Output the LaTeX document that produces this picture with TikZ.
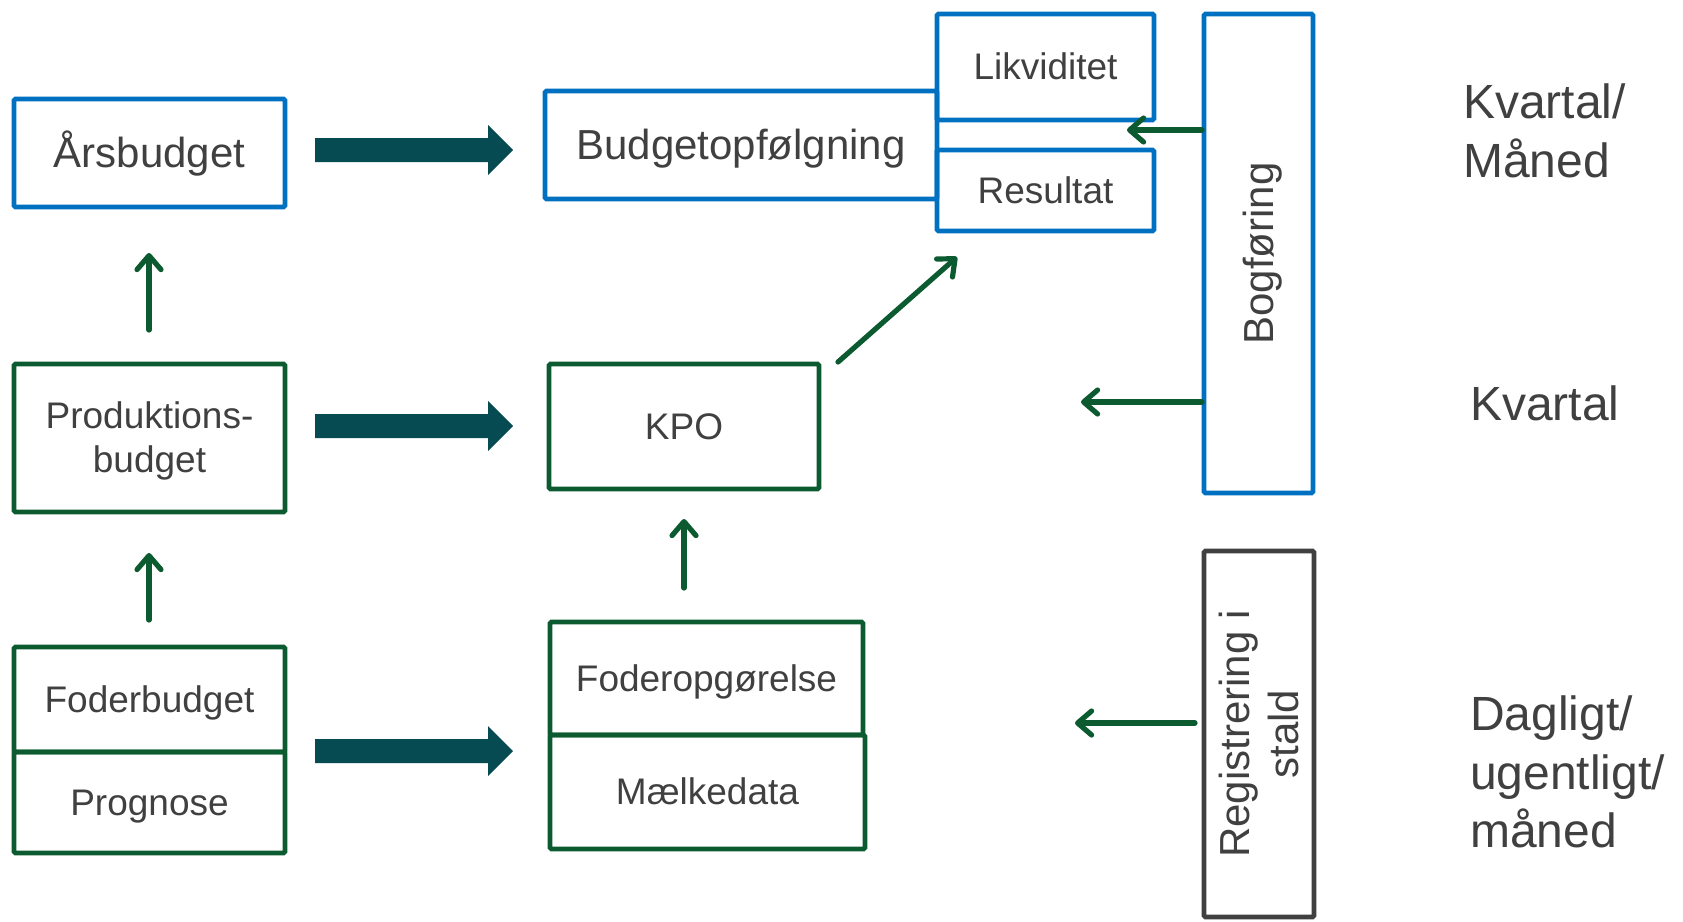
\documentclass[tikz,border=0pt]{standalone}
\usepackage{fontspec}
\setmainfont{Liberation Sans}
\usetikzlibrary{arrows.meta,calc}
\definecolor{cblue}{HTML}{0070C0}
\definecolor{cgreen}{HTML}{0C5B30}
\definecolor{cteal}{HTML}{064A52}
\definecolor{cgray}{HTML}{404040}
\definecolor{ctext}{HTML}{404040}
\newcommand\ppstrut{\rule[-0.212em]{0pt}{1.117em}}
\newcommand\fatarrow[2]{%
  \fill[cteal] ($(#1)+(0,-12)$) -- ($(#2)+(-25,-12)$) -- ($(#2)+(-25,-25)$) -- (#2)
    -- ($(#2)+(-25,25)$) -- ($(#2)+(-25,12)$) -- ($(#1)+(0,12)$) -- cycle;}
\begin{document}
\begin{tikzpicture}[x=1pt,y=-1pt,
  box/.style={draw, line width=4.8pt, rectangle, rounded corners=1.5pt, inner sep=0pt,
    outer sep=0pt, text=ctext, font=\fontsize{37}{44}\selectfont, align=center},
  bluebox/.style={box, draw=cblue},
  greenbox/.style={box, draw=cgreen},
  graybox/.style={box, draw=cgray, font=\fontsize{42}{49}\selectfont},
  thinarrow/.style={draw=cgreen, line width=5.2pt, line cap=round,
    -{Straight Barb[length=14pt,width=24pt,line join=round,line cap=round]}},
  sidelabel/.style={text=ctext, font=\fontsize{48}{58.5}\selectfont, align=left,
    anchor=west, inner sep=0pt}
]
\useasboundingbox (0,0) rectangle (1683,921);
\fill[white] (0,0) rectangle (1683,921);

% left column
\node[bluebox, minimum width=271pt, minimum height=108pt, font=\fontsize{42}{49}\selectfont] (ars) at (149.5,153) {\ppstrut Årsbudget};
\node[greenbox, minimum width=271pt, minimum height=148pt] (prod) at (149.5,438) {\ppstrut Produktions-\\\ppstrut budget};
\node[greenbox, minimum width=271pt, minimum height=105pt] (foder) at (149.5,699.5) {\ppstrut Foderbudget};
\node[greenbox, minimum width=271pt, minimum height=101pt] (progn) at (149.5,802.5) {\ppstrut Prognose};

% middle column
\node[bluebox, minimum width=392pt, minimum height=108pt, font=\fontsize{42}{49}\selectfont] (budget) at (741,145) {\ppstrut Budgetopfølgning};
\node[bluebox, minimum width=217pt, minimum height=106pt] (likv) at (1045.5,67) {\ppstrut Likviditet};
\node[bluebox, minimum width=217pt, minimum height=81pt] (res) at (1045.5,190.5) {\ppstrut Resultat};
\node[greenbox, minimum width=270pt, minimum height=125pt] (kpo) at (684,426.5) {\ppstrut KPO};
\node[greenbox, minimum width=313pt, minimum height=113pt] (fopg) at (706.5,678.5) {\ppstrut Foderopgørelse};
\node[greenbox, minimum width=315pt, minimum height=114pt] (maelk) at (707.5,792) {\ppstrut Mælkedata};

% right column
\node[graybox, draw=cblue, minimum width=479pt, minimum height=109pt, rotate=90] (bog) at (1258.5,253.5) {\ppstrut Bogføring};
\node[graybox, minimum width=366pt, minimum height=110pt, rotate=90] (reg) at (1259,734) {\ppstrut Registrering i\\\ppstrut stald};

% side labels
\node[sidelabel] (l1) at (1463,131) {Kvartal/\\Måned};
\node[sidelabel] (l2) at (1470,403.5) {Kvartal};
\node[sidelabel] (l3) at (1470,772) {Dagligt/\\ugentligt/\\måned};

% fat arrows
\coordinate (f1s) at ($(ars.east)+(30,-3)$);
\coordinate (f1e) at ($(budget.west)+(-32,5)$);
\coordinate (f2s) at ($(prod.east)+(30,-12)$);
\coordinate (f2e) at ($(kpo.west)+(-36,-0.5)$);
\coordinate (f3s) at ($(progn.north east)+(30,-1)$);
\coordinate (f3e) at ($(fopg.south west)+(-37,16)$);
\fatarrow{f1s}{f1e}
\fatarrow{f2s}{f2e}
\fatarrow{f3s}{f3e}

% thin arrows
\coordinate (u1s) at (149,330);
\coordinate (u1e) at (149,253);
\coordinate (u2s) at (149,620);
\coordinate (u2e) at (149,553);
\coordinate (u3s) at (684,588);
\coordinate (u3e) at (684,519);
\coordinate (dgs) at (838,362);
\coordinate (dge) at (957,257);
\coordinate (b1s) at (1202,130);
\coordinate (b1e) at (1127,130);
\coordinate (b2s) at (1202,402);
\coordinate (b2e) at (1081,402);
\coordinate (r1s) at (1195,723);
\coordinate (r1e) at (1075,723);
\draw[thinarrow] (u1s) -- (u1e);
\draw[thinarrow] (u2s) -- (u2e);
\draw[thinarrow] (u3s) -- (u3e);
\draw[thinarrow] (dgs) -- (dge);
\draw[thinarrow] (b1s) -- (b1e);
\draw[thinarrow] (b2s) -- (b2e);
\draw[thinarrow] (r1s) -- (r1e);
\end{tikzpicture}
\end{document}
